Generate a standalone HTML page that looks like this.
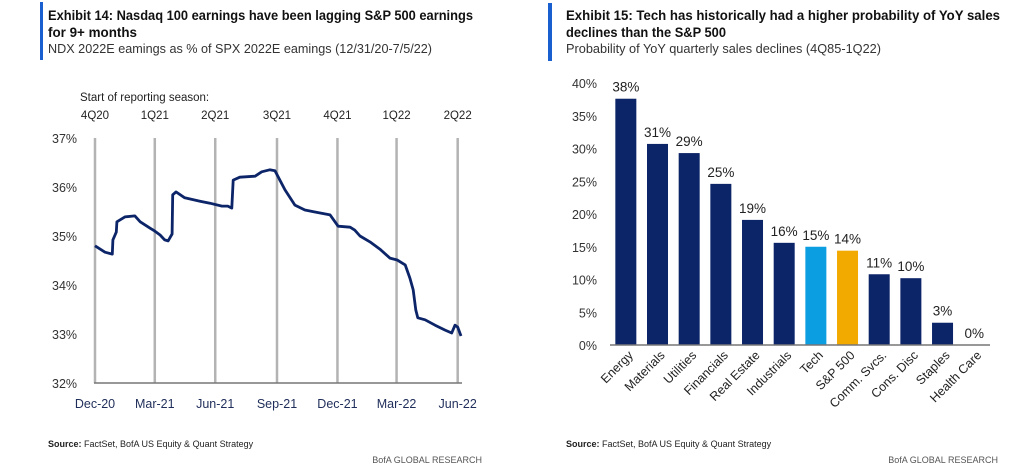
<!DOCTYPE html>
<html><head><meta charset="utf-8"><style>
body{margin:0;background:#fff;}
svg{display:block;font-family:"Liberation Sans",sans-serif;}
</style></head><body>
<svg id="s" width="1024" height="471" viewBox="0 0 1024 471">
<rect x="40" y="2" width="3" height="58" fill="#1a5fd0"/>
<text x="48" y="20" font-size="13.5" font-weight="bold" fill="#111" textLength="425" lengthAdjust="spacingAndGlyphs">Exhibit 14: Nasdaq  100 earnings have been lagging S&amp;P 500 earnings</text>
<text x="48" y="37" font-size="13.5" font-weight="bold" fill="#111" textLength="89" lengthAdjust="spacingAndGlyphs">for 9+ months</text>
<text x="48" y="53" font-size="12.5" fill="#333" textLength="384" lengthAdjust="spacingAndGlyphs">NDX 2022E eamings as % of SPX 2022E eamings (12/31/20-7/5/22)</text>
<text x="80" y="101" font-size="11.5" fill="#222">Start of reporting  season:</text>
<g id="left"></g>
<text x="48" y="447" font-size="9" fill="#222"><tspan font-weight="bold">Source:</tspan> FactSet, BofA US Equity &amp; Quant Strategy</text>
<text x="482" y="463" font-size="9" fill="#555" text-anchor="end">BofA GLOBAL RESEARCH</text>

<rect x="548" y="3" width="4" height="58" fill="#1a5fd0"/>
<text x="566" y="20" font-size="13.5" font-weight="bold" fill="#111" textLength="434" lengthAdjust="spacingAndGlyphs">Exhibit 15: Tech has historically had a higher probability of YoY sales</text>
<text x="566" y="37" font-size="13.5" font-weight="bold" fill="#111" textLength="160" lengthAdjust="spacingAndGlyphs">declines than the S&amp;P 500</text>
<text x="566" y="53" font-size="12.5" fill="#333" textLength="315" lengthAdjust="spacingAndGlyphs">Probability of YoY quarterly sales declines (4Q85-1Q22)</text>
<g id="right"></g>
<text x="566" y="447" font-size="9" fill="#222"><tspan font-weight="bold">Source:</tspan> FactSet, BofA US Equity &amp; Quant Strategy</text>
<text x="998" y="463" font-size="9" fill="#555" text-anchor="end">BofA GLOBAL RESEARCH</text>
</svg>
<script>
const NS="http://www.w3.org/2000/svg";
const lineDays=[0,15,26,27,32,33,45,60,68,83,90,98,105,110,116,117,122,135,158,173,191,200,206,208,218,241,251,263,271,286,301,316,331,354,366,384,391,399,414,429,444,455,467,474,479,483,486,497,512,527,537,542,546,551];
const lineValues=[34.80,34.67,34.63,34.92,35.08,35.29,35.39,35.41,35.29,35.16,35.10,35.02,34.92,34.90,35.04,35.84,35.90,35.78,35.71,35.67,35.61,35.61,35.57,36.14,36.20,36.22,36.31,36.35,36.33,35.94,35.63,35.53,35.49,35.43,35.20,35.18,35.12,35.00,34.88,34.73,34.55,34.51,34.41,34.14,33.90,33.49,33.33,33.29,33.18,33.08,33.02,33.18,33.14,32.96];
const yTicksL=[32,33,34,35,36,37];
const seasonLabels=["4Q20","1Q21","2Q21","3Q21","4Q21","1Q22","2Q22"];
const seasonDays=[0,90,181,274,365,454,546];
const dateLabels=["Dec-20","Mar-21","Jun-21","Sep-21","Dec-21","Mar-22","Jun-22"];
const categories=["Energy","Materials","Utilities","Financials","Real Estate","Industrials","Tech","S&P 500","Comm. Svcs.","Cons. Disc","Staples","Health Care"];
const barValues=[37.6,30.7,29.3,24.6,19.1,15.6,15.0,14.4,10.8,10.2,3.4,0];
const yTicksR=[0,5,10,15,20,25,30,35,40];

function mk(tag,attrs,parent,txt){const e=document.createElementNS(NS,tag);for(const k in attrs)e.setAttribute(k,attrs[k]);if(txt!==undefined)e.textContent=txt;parent.appendChild(e);return e;}

// left chart
const L=document.getElementById('left');
const xL=d=>95+d*(366/551);
const yL=v=>383-(v-32)*49;
seasonDays.forEach((d,i)=>{
  const g=mk('line',{x1:xL(d),x2:xL(d),y1:138,y2:383,stroke:'#b3b3b3','stroke-width':2.5},L);
  
  
  const t=mk('text',{x:xL(d),y:119,'font-size':11.5,fill:'#222','text-anchor':'middle'},L,seasonLabels[i]);
  
  
  const dl=mk('text',{x:xL(d),y:408,'font-size':12.5,fill:'#1f2d5a','text-anchor':'middle'},L,dateLabels[i]);
  
  
});
yTicksL.forEach(v=>{
  const t=mk('text',{x:52,y:yL(v)+5,'font-size':12.5,fill:'#333'},L,v+'%');
  
  
});
const ax=mk('line',{x1:94,x2:462,y1:383,y2:383,stroke:'#777','stroke-width':1.5},L);


const pts=lineDays.map((d,i)=>xL(d).toFixed(1)+','+yL(lineValues[i]).toFixed(1)).join(' ');
const pl=mk('polyline',{points:pts,fill:'none',stroke:'#0c2468','stroke-width':2.8,'stroke-linejoin':'round'},L);



// right chart
const R=document.getElementById('right');
const base=345, ppu=6.55, x0=610, step=31.67, bw=21;
const yR=v=>base-v*ppu;
yTicksR.forEach(v=>{
  const t=mk('text',{x:597,y:yR(v)+5,'font-size':12.5,fill:'#333','text-anchor':'end'},R,v+'%');
  
  
});
categories.forEach((c,i)=>{
  const cx=x0+step*(i+0.5);
  const col=c==="Tech"?"#0b9ee0":(c==="S&P 500"?"#f2a900":"#0c2468");
  const b=mk('rect',{x:cx-bw/2,y:yR(barValues[i]),width:bw,height:barValues[i]*ppu,fill:col},R);
  
  
  const vl=mk('text',{x:cx,y:yR(barValues[i])-7,'font-size':13.5,fill:'#222','text-anchor':'middle'},R,Math.round(barValues[i])+'%');
  
  
  const cl=mk('text',{x:cx+8,y:356,'font-size':12.5,fill:'#222','text-anchor':'end',transform:'rotate(-45 '+(cx+8)+' 356)'},R,c);
  
  
});
const axr=mk('line',{x1:610,x2:990,y1:base,y2:base,stroke:'#777','stroke-width':1.5},R);


</script>
</body></html>
